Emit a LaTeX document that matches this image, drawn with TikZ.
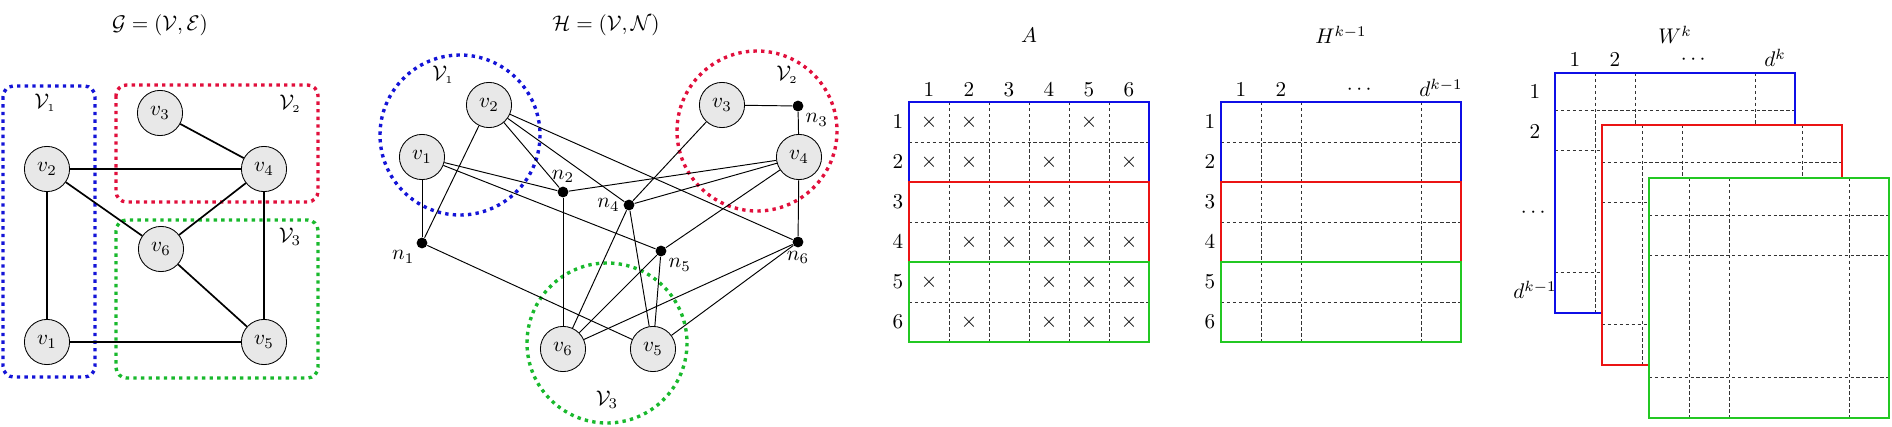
\documentclass[tikz,border=0pt]{standalone}
\usepackage{amsmath,amssymb}
\usepackage{tikz}
\usetikzlibrary{positioning,calc}
\definecolor{grpblue}{RGB}{20, 20, 215}
\definecolor{grpred}{RGB}{225, 15, 60}
\definecolor{grpgreen}{RGB}{25, 185, 45}
\definecolor{boxblue}{RGB}{15, 15, 230}
\definecolor{boxred}{RGB}{235, 20, 20}
\definecolor{boxgreen}{RGB}{35, 200, 35}
\definecolor{vtxgray}{RGB}{232, 232, 232}

\begin{document}
\begin{tikzpicture}[
        x=0.0166cm, y=-0.0166cm,
        vtx/.style={circle, draw=black, fill=vtxgray, thin, minimum size=0.75cm, inner sep=0pt},
        net/.style={circle, fill=black, minimum size=0.18cm, inner sep=0pt},
        edg/.style={line width=0.8pt},
        hedg/.style={line width=0.45pt},
        grp/.style={dotted, line width=1.6pt},
        cell/.style={dash pattern=on 1.6pt off 1.2pt, line width=0.45pt, black!80},
        blk/.style={line width=1.2pt},
        lbl/.style={inner sep=1.5pt}
    ]
        \useasboundingbox (0,0) rectangle (1892,426);

        % Graph G
        \node (tG) at (160,25) {$\mathcal{G} = (\mathcal{V},\mathcal{E})$};
        \draw[grp, draw=grpblue, rounded corners=5pt] (3,86) rectangle (95,377);
        \draw[grp, draw=grpred, rounded corners=5pt] (116,85) rectangle (318,202);
        \draw[grp, draw=grpgreen, rounded corners=5pt] (116,220) rectangle (318,378);
        \node (gV1) at (45,103) {$\mathcal{V}_{\scriptscriptstyle 1}$};
        \node (gV2) at (290,104) {$\mathcal{V}_{\scriptscriptstyle 2}$};
        \node (gV3) at (290,237) {$\mathcal{V}_3$};

        \node[vtx] (gv1) at (47,342) {$v_1$};
        \node[vtx] (gv2) at (47,169) {$v_2$};
        \node[vtx] (gv3) at (160,113) {$v_3$};
        \node[vtx] (gv4) at (264,169) {$v_4$};
        \node[vtx] (gv5) at (264,342) {$v_5$};
        \node[vtx] (gv6) at (161,249) {$v_6$};

        \draw[edg] (gv3) -- (gv4);
        \draw[edg] (gv2) -- (gv4);
        \draw[edg] (gv2) -- (gv6);
        \draw[edg] (gv2) -- (gv1);
        \draw[edg] (gv4) -- (gv6);
        \draw[edg] (gv4) -- (gv5);
        \draw[edg] (gv6) -- (gv5);
        \draw[edg] (gv1) -- (gv5);

        % Hypergraph H
        \node (tH) at (606,25) {$\mathcal{H} = (\mathcal{V},\mathcal{N})$};
        \draw[grp, draw=grpblue] (460,135) circle [radius=80];
        \draw[grp, draw=grpred] (757,131) circle [radius=80];
        \draw[grp, draw=grpgreen] (607,343) circle [radius=80];
        \node (hV1) at (443,75) {$\mathcal{V}_{\scriptscriptstyle 1}$};
        \node (hV2) at (787,75) {$\mathcal{V}_{\scriptscriptstyle 2}$};
        \node (hV3) at (607,400) {$\mathcal{V}_3$};

        \node[vtx] (hv1) at (422,157) {$v_1$};
        \node[vtx] (hv2) at (489,105) {$v_2$};
        \node[vtx] (hv3) at (722,105) {$v_3$};
        \node[vtx] (hv4) at (799,157) {$v_4$};
        \node[vtx] (hv5) at (653,349) {$v_5$};
        \node[vtx] (hv6) at (563,349) {$v_6$};

        \node[net, label={[lbl]below left:$n_1$}] (hn1) at (422,243) {};
        \node[net, label={[lbl]above:$n_2$}] (hn2) at (563,192) {};
        \node[net, label={[lbl]below right:$n_3$}] (hn3) at (798,106) {};
        \node[net, label={[lbl]left:$n_4$}] (hn4) at (629,205) {};
        \node[net, label={[lbl]below right:$n_5$}] (hn5) at (661,251) {};
        \node[net, label={[lbl]below:$n_6$}] (hn6) at (798,242) {};

        \foreach \e/\vs in {hn1/{hv1,hv2,hv5}, hn2/{hv1,hv2,hv6,hv4}, hn3/{hv3,hv4},
                hn4/{hv2,hv3,hv4,hv6,hv5}, hn5/{hv1,hv4,hv5,hv6}, hn6/{hv2,hv4,hv6,hv5}}
            \foreach \v in \vs
                \draw[hedg] (\e) -- (\v);

        % Matrix A
        \node (tA) at (1029,35) {$A$};
        \foreach \i in {1,...,5} {
            \draw[cell] (909+40*\i,102) -- (909+40*\i,342);
            \draw[cell] (909,102+40*\i) -- (1149,102+40*\i);
        }
        \foreach \i in {1,...,6} {
            \node (aC\i) at (889+40*\i,90) {$\i$};
            \node (aR\i) at (898,82+40*\i) {$\i$};
        }
        \foreach \c/\r in {1/1,2/1,5/1, 1/2,2/2,4/2,6/2, 3/3,4/3, 2/4,3/4,4/4,5/4,6/4,
                1/5,4/5,5/5,6/5, 2/6,4/6,5/6,6/6}
            \node (aX\c\r) at (889+40*\c,82+40*\r) {$\times$};
        \draw[blk, boxblue] (909,102) rectangle (1149,182);
        \draw[blk, boxred] (909,182) rectangle (1149,262);
        \draw[blk, boxgreen] (909,262) rectangle (1149,342);

        % Matrix H^{k-1}
        \node (tHk) at (1341,35) {$H^{k-1}$};
        \foreach \x in {1261,1301,1421}
            \draw[cell] (\x,102) -- (\x,342);
        \foreach \i in {1,...,5}
            \draw[cell] (1221,102+40*\i) -- (1461,102+40*\i);
        \foreach \i in {1,...,6}
            \node (hR\i) at (1210,82+40*\i) {$\i$};
        \node (hC1) at (1241,90) {$1$};
        \node (hC2) at (1281,90) {$2$};
        \node (hC3) at (1361,90) {$\cdots$};
        \node (hC4) at (1441,88) {$d^{k-1}$};
        \draw[blk, boxblue] (1221,102) rectangle (1461,182);
        \draw[blk, boxred] (1221,182) rectangle (1461,262);
        \draw[blk, boxgreen] (1221,262) rectangle (1461,342);

        % Weights W^k
        \node (tW) at (1675,35) {$W^k$};
        \node (wC1) at (1575,60) {$1$};
        \node (wC2) at (1615,60) {$2$};
        \node (wC3) at (1695,60) {$\cdots$};
        \node (wC4) at (1775,58) {$d^k$};
        \node (wR1) at (1535,92) {$1$};
        \node (wR2) at (1535,132) {$2$};
        \node (wR3) at (1535,213) {$\cdots$};
        \node (wR4) at (1535,290) {$d^{k-1}$};
        \foreach \ox/\oy/\col in {1555/73/boxblue, 1602/125/boxred, 1649/178/boxgreen} {
            \fill[white] (\ox,\oy) rectangle (\ox+240,\oy+240);
            \foreach \d in {40,80,200}
                \draw[cell] (\ox+\d,\oy) -- (\ox+\d,\oy+240);
            \foreach \d in {37,77,199}
                \draw[cell] (\ox,\oy+\d) -- (\ox+240,\oy+\d);
            \draw[blk, \col] (\ox,\oy) rectangle (\ox+240,\oy+240);
        }
    \end{tikzpicture}
\end{document}
